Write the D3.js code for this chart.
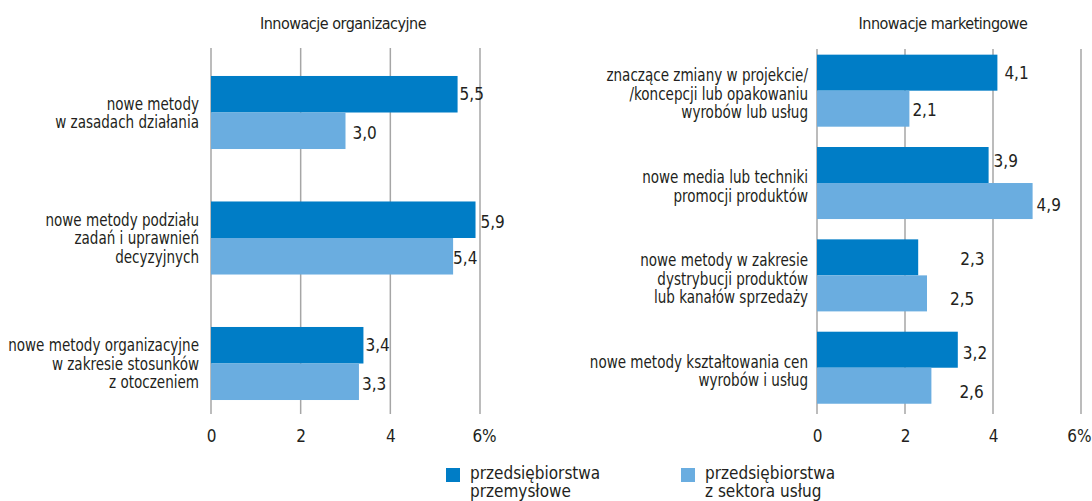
<!DOCTYPE html>
<html><head><meta charset="utf-8">
<script src="https://cdnjs.cloudflare.com/ajax/libs/d3/7.8.5/d3.min.js"></script>
<style>
body{margin:0;background:#fff;}
svg text{font-family:"DejaVu Sans Condensed","Liberation Sans Narrow",sans-serif;fill:#231f20;}
</style></head><body>
<svg id="c" width="1092" height="501"></svg>
<script>
// ---- data ----
const seriesNames = ["przedsiębiorstwa\nprzemysłowe", "przedsiębiorstwa\nz sektora usług"];
const orgTitle = "Innowacje organizacyjne";
const orgCategories = [
  "nowe metody\nw zasadach działania",
  "nowe metody podziału\nzadań i uprawnień\ndecyzyjnych",
  "nowe metody organizacyjne\nw zakresie stosunków\nz otoczeniem"
];
const orgIndustry = [5.5, 5.9, 3.4];
const orgServices = [3.0, 5.4, 3.3];

const mktTitle = "Innowacje marketingowe";
const mktCategories = [
  "znaczące zmiany w projekcie/\n/koncepcji lub opakowaniu\nwyrobów lub usług",
  "nowe media lub techniki\npromocji produktów",
  "nowe metody w zakresie\ndystrybucji produktów\nlub kanałów sprzedaży",
  "nowe metody kształtowania cen\nwyrobów i usług"
];
const mktIndustry = [4.1, 3.9, 2.3, 3.2];
const mktServices = [2.1, 4.9, 2.5, 2.6];

const tickValues = [0, 2, 4, 6];
const tickLabels = ["0", "2", "4", "6%"];

// ---- style / layout ----
const colors = ["#007dc6", "#6aade0"];
const gridColor = "#a6a6a6";
const W = 1092;
const svg = d3.select("#c");

function panel(opt) {
  const x = d3.scaleLinear().domain([0, 6]).range([opt.x0, opt.x1]);
  const y = d3.scaleBand().domain(opt.cats.map((d, i) => i))
    .range([opt.yTop, opt.yBot]).paddingInner(opt.pad).paddingOuter(opt.pad / 2);
  const ys = d3.scaleBand().domain([0, 1]).range([0, y.bandwidth()]);
  const g = svg.append("g");

  // title
  g.append("text").attr("x", opt.titleX).attr("y", 29).attr("text-anchor", "middle")
    .style("font-size", "16px").style("letter-spacing", "-0.5px").text(opt.title);

  // gridlines
  g.selectAll("line.grid").data(tickValues).join("line")
    .attr("x1", d => x(d)).attr("x2", d => x(d))
    .attr("y1", opt.gTop).attr("y2", opt.gBot)
    .attr("stroke", gridColor).attr("stroke-width", 1.5);

  // tick labels via axis
  const ax = d3.axisBottom(x).tickValues(tickValues)
    .tickFormat((d, i) => tickLabels[i]).tickSize(0).tickPadding(0);
  const axG = g.append("g").attr("transform", `translate(0,${opt.gBot + 16})`).call(ax);
  axG.select(".domain").remove();
  axG.selectAll("text").style("font-size", "17px").attr("fill", "#231f20")
    .attr("font-family", null)
    .attr("dx", (d, i) => tickLabels[i].endsWith("%") ? 4 : 0)
    .each(function (d) {
      // keep the label inside the picture
      const b = this.getBBox();
      const right = x(d) + (+this.getAttribute("dx")) + b.width / 2;
      if (right > W - 1) this.setAttribute("dx", (+this.getAttribute("dx")) - (right - (W - 1)));
    });

  const series = [opt.ind, opt.srv];
  series.forEach((vals, s) => {
    g.selectAll("rect.s" + s).data(vals).join("rect")
      .attr("x", x(0)).attr("y", (d, i) => y(i) + ys(s))
      .attr("width", d => x(d) - x(0)).attr("height", ys.bandwidth())
      .attr("fill", colors[s]);
    g.selectAll("text.v" + s).data(vals).join("text")
      .attr("x", (d, i) => x(d) + 5 + opt.nudgeX[s][i])
      .attr("y", (d, i) => y(i) + ys(s) + ys.bandwidth() / 2 + opt.nudgeY[s][i])
      .attr("dy", "0.36em").style("font-size", "17px")
      .text(d => d.toFixed(1).replace(".", ","));
  });

  // category labels (horizontally condensed)
  opt.cats.forEach((c, i) => {
    const lines = c.split("\n");
    const cy = y(i) + y.bandwidth() / 2 + opt.labOff;
    const t = g.append("text").attr("text-anchor", "end").style("font-size", "17.5px")
      .attr("transform", `translate(${opt.labX},0) scale(0.86,1)`);
    lines.forEach((l, k) => {
      t.append("tspan").attr("x", 0)
        .attr("y", cy + (k - (lines.length - 1) / 2) * 18.5)
        .attr("dy", "0.36em").text(l);
    });
  });
}

panel({
  title: orgTitle, titleX: 343, cats: orgCategories, ind: orgIndustry, srv: orgServices,
  x0: 211, x1: 480, yTop: 49.75, yBot: 426.25, pad: 0.418, gTop: 48, gBot: 414,
  labX: 199, labOff: 0,
  nudgeX: [[-3, 0, -3], [2, -5, -2]], nudgeY: [[0, 2, 0], [2, 2, 2]]
});
panel({
  title: mktTitle, titleX: 943, cats: mktCategories, ind: mktIndustry, srv: mktServices,
  x0: 817, x1: 1081, yTop: 44.5, yBot: 413.9, pad: 0.22, gTop: 49, gBot: 414,
  labX: 808, labOff: 3,
  nudgeX: [[2, 0, 37, 0], [-2, -1, 18, 23]], nudgeY: [[0, -4, 2, 3], [1, 4, 5, 6]]
});

// legend
const legX = [446, 681];
seriesNames.forEach((name, s) => {
  svg.append("rect").attr("x", legX[s]).attr("y", 468).attr("width", 14).attr("height", 14)
    .attr("fill", colors[s]);
  const t = svg.append("text").style("font-size", "17px");
  name.split("\n").forEach((l, k) => {
    t.append("tspan").attr("x", legX[s] + 24).attr("y", 473 + k * 18).attr("dy", "0.36em").text(l);
  });
});
</script>
</body></html>
